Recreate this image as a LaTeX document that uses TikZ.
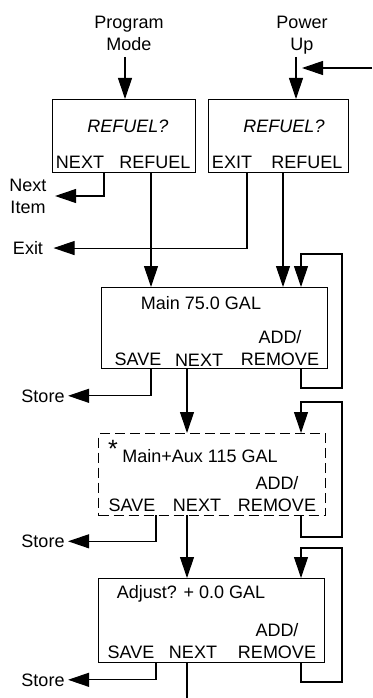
\documentclass[tikz,border=0pt]{standalone}
\usepackage{fontspec}
\setmainfont{Liberation Sans}
\usetikzlibrary{arrows.meta}

\begin{document}
\begin{tikzpicture}[x=1pt,y=-1pt,line width=1.1pt,
        box/.style={draw,rectangle,anchor=north west,inner sep=0pt},
        lbl/.style={anchor=base,inner sep=0pt,font=\fontsize{18}{22}\selectfont},
        two/.style={lbl,anchor=center,align=center},
        ital/.style={lbl,font=\fontsize{18}{22}\selectfont\itshape},
        flow/.style={-{Triangle[length=21pt,width=14pt]}}]
        \useasboundingbox (0,0) rectangle (372,698);

        % display boxes
        \node[box,minimum width=143pt,minimum height=73pt] (refA) at (52,99) {};
        \node[box,minimum width=140pt,minimum height=73pt] (refB) at (208,99) {};
        \node[box,minimum width=226pt,minimum height=81pt] (mainBox) at (101,287) {};
        \node[box,dash pattern=on 10pt off 5pt,minimum width=227pt,minimum height=82pt] (auxBox) at (98,433) {};
        \node[box,minimum width=226pt,minimum height=84pt] (adjBox) at (98,578) {};

        % entry labels
        \node[two] (prog) at (129,33) {Program\\Mode};
        \node[two] (pwr) at (302,35) {Power\\Up};
        \node[two] (nextItem) at (28,196) {Next\\Item};
        \node[lbl] (exitL) at (28,254.5) {Exit};
        \node[lbl] (storeC) at (43,402) {Store};
        \node[lbl] (storeD) at (43,547.5) {Store};
        \node[lbl] (storeE) at (43,686) {Store};

        % display texts
        \node[ital] (qA) at (128,132) {REFUEL?};
        \node[ital] (qB) at (284,132) {REFUEL?};
        \node[lbl] (kNextA) at (80,168) {NEXT};
        \node[lbl] (kRefuelA) at (155,168) {REFUEL};
        \node[lbl] (kExitB) at (232,168) {EXIT};
        \node[lbl] (kRefuelB) at (307,168) {REFUEL};

        \node[lbl] (tMain) at (201,309) {Main 75.0 GAL};
        \node[two] (kAddC) at (280,348) {ADD/\\REMOVE};
        \node[lbl] (kSaveC) at (138,365) {SAVE};
        \node[lbl] (kNextC) at (199,366) {NEXT};

        \node[lbl,font=\fontsize{25}{25}\selectfont] (star) at (113,457) {*};
        \node[lbl] (tAux) at (200,462) {Main+Aux 115 GAL};
        \node[two] (kAddD) at (277,494) {ADD/\\REMOVE};
        \node[lbl] (kSaveD) at (132,511.5) {SAVE};
        \node[lbl] (kNextD) at (197,511.5) {NEXT};

        \node[lbl] (tAdj) at (191,598) {Adjust? + 0.0 GAL};
        \node[two] (kAddE) at (277,641.5) {ADD/\\REMOVE};
        \node[lbl] (kSaveE) at (131,658) {SAVE};
        \node[lbl] (kNextE) at (193,658) {NEXT};

        % key exits
        \coordinate (progIn) at (125,57);
        \coordinate (pwrIn) at (296,57);
        \coordinate (retIn) at (372,68);
        \coordinate (nextA) at (104,172);
        \coordinate (refuelA) at (151,172);
        \coordinate (exitB) at (247,172);
        \coordinate (refuelB) at (283,172);
        \coordinate (saveC) at (151,368);
        \coordinate (nextC) at (187,368);
        \coordinate (addC) at (301,368);
        \coordinate (loopC) at (342,254);
        \coordinate (saveD) at (156,515);
        \coordinate (nextD) at (187,515);
        \coordinate (addD) at (301,515);
        \coordinate (loopD) at (342,402);
        \coordinate (saveE) at (156,662);
        \coordinate (nextE) at (187,662);
        \coordinate (addE) at (301,662);
        \coordinate (loopE) at (342,548);

        \draw[flow] (progIn) -- (progIn |- refA.north);
        \draw[flow] (pwrIn) -- (pwrIn |- refB.north);
        \draw[flow] (retIn) -- ([xshift=6pt]pwrIn |- retIn);

        \draw[flow] (nextA) |- ([xshift=8pt]nextItem.east);
        \draw[flow] (exitB) |- ([xshift=10pt]exitL.east);
        \draw[flow] (refuelA) -- (refuelA |- mainBox.north);
        \draw[flow] (refuelB) -- (refuelB |- mainBox.north);

        \draw[flow] (saveC) |- ([xshift=3pt]storeC.east);
        \draw[flow] (nextC) -- (nextC |- auxBox.north);
        \draw[flow] (addC) -- ++(0,20) -| (loopC) -| (addC |- mainBox.north);

        \draw[flow] (saveD) |- ([xshift=3pt]storeD.east);
        \draw[flow] (nextD) -- (nextD |- adjBox.north);
        \draw[flow] (addD) -- ++(0,22) -| (loopD) -| (addD |- auxBox.north);

        \draw[flow] (saveE) |- ([xshift=3pt]storeE.east);
        \draw (nextE) -- ++(0,36);
        \draw[flow] (addE) -- ++(0,20) -| (loopE) -| (addE |- adjBox.north);
\end{tikzpicture}
\end{document}
